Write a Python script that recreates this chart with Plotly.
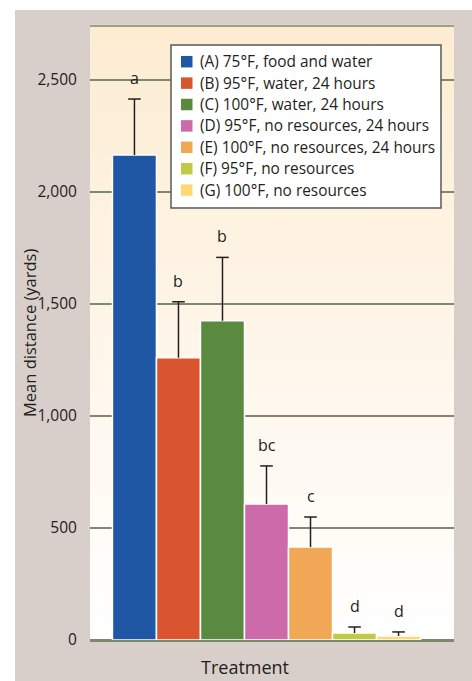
import plotly.graph_objects as go

# Treatment groups, mean travel distance and standard error (yards)
labels = [
    "(A) 75°F, food and water",
    "(B) 95°F, water, 24 hours",
    "(C) 100°F, water, 24 hours",
    "(D) 95°F, no resources, 24 hours",
    "(E) 100°F, no resources, 24 hours",
    "(F) 95°F, no resources",
    "(G) 100°F, no resources",
]
means = [2165, 1260, 1425, 607, 415, 31, 18]
errors = [250, 250, 283, 170, 134, 27, 18]
groups = ["a", "b", "b", "bc", "c", "d", "d"]
colors = ["#1f57a5", "#d9552f", "#5a8a3f", "#cd6aaa", "#f0a857", "#c0c948", "#fdd874"]
y_ticks = [0, 500, 1000, 1500, 2000, 2500]

FONT = "Open Sans"
INK = "#231f20"
GRID = "#7b8a6d"

# plotting-area geometry in pixels (used to place paper-referenced decorations)
W, H = 472, 681
L, R, T, B = 90, 18, 26, 41
PW, PH = W - L - R, H - T - B


def px(x):
    return (x - L) / PW


def py(y):
    return (H - B - y) / PH


fig = go.Figure()

# one bar trace per treatment
for i, (lab, m, c) in enumerate(zip(labels, means, colors)):
    fig.add_trace(go.Bar(
        x=[i], y=[m], name=lab, width=1.0,
        marker=dict(color=c, line=dict(color="white", width=1.5)),
        hoverinfo="skip", showlegend=False,
    ))

# upper error whiskers: stem from bar top to mean + SE, with a cap
stem_x, stem_y = [], []
for i, (m, e) in enumerate(zip(means, errors)):
    stem_x += [i, i, None]
    stem_y += [m, m + e, None]
fig.add_trace(go.Scatter(
    x=stem_x, y=stem_y, mode="lines",
    line=dict(color=INK, width=1.5), showlegend=False, hoverinfo="skip",
))
fig.add_trace(go.Scatter(
    x=list(range(len(means))), y=[m + e for m, e in zip(means, errors)],
    mode="markers",
    marker=dict(symbol="line-ew-open", size=9, color=INK,
                line=dict(color=INK, width=1.5)),
    showlegend=False, hoverinfo="skip",
))

# significance group letters above the whiskers
for i, (m, e, g) in enumerate(zip(means, errors, groups)):
    fig.add_annotation(
        x=i, y=m + e, text=g, showarrow=False, yanchor="middle", yshift=21,
        font=dict(family=FONT, size=16, color=INK),
    )

shapes = []
# tinted panel behind the whole chart
shapes.append(dict(
    type="rect", xref="paper", yref="paper", layer="below",
    x0=px(15), x1=px(W + 20), y0=py(H + 20), y1=py(10),
    fillcolor="#d9cfca", line=dict(width=0),
))
# cream-to-white vertical wash inside the plotting area
n_bands = 80
top_rgb = (253, 236, 210)
bot_rgb = (255, 255, 255)
for k in range(n_bands):
    t = (k + 0.5) / n_bands
    r, g, b = (round(bot_rgb[j] + (top_rgb[j] - bot_rgb[j]) * t) for j in range(3))
    shapes.append(dict(
        type="rect", xref="paper", yref="paper", layer="below",
        x0=0, x1=1, y0=k / n_bands, y1=(k + 1) / n_bands + 0.002,
        fillcolor=f"rgb({r},{g},{b})", line=dict(width=0),
    ))
# rule along the top of the plotting area
shapes.append(dict(
    type="line", xref="paper", yref="paper", x0=0, x1=1, y0=1, y1=1,
    line=dict(color=GRID, width=1.5),
))

# key box listing the treatments
key_left, key_right, key_top, key_bottom = 171, 441, 45, 208
row0, row_gap = 61.7, 21.4
shapes.append(dict(
    type="rect", xref="paper", yref="paper", layer="above",
    x0=px(key_left), x1=px(key_right), y0=py(key_bottom), y1=py(key_top),
    fillcolor="white", line=dict(color="#58595b", width=1.5),
))
for k, (lab, c) in enumerate(zip(labels, colors)):
    yc = row0 + k * row_gap
    shapes.append(dict(
        type="rect", xref="paper", yref="paper", layer="above",
        x0=px(181), x1=px(192.5), y0=py(yc + 5.75), y1=py(yc - 5.75),
        fillcolor=c, line=dict(width=0),
    ))
    fig.add_annotation(
        xref="paper", yref="paper", x=px(197.5), y=py(yc),
        text=lab, showarrow=False, xanchor="left", yanchor="middle",
        font=dict(family=FONT, size=15.4, color=INK),
    )

fig.add_annotation(
    xref="paper", yref="paper", x=px(29), y=0.5,
    text="Mean distance (yards)", textangle=-90, showarrow=False,
    xanchor="center", yanchor="middle",
    font=dict(family=FONT, size=16.5, color=INK),
)
fig.add_annotation(
    xref="paper", yref="paper", x=px(245), y=py(667),
    text="Treatment", showarrow=False, xanchor="center", yanchor="middle",
    font=dict(family=FONT, size=18, color=INK),
)

fig.update_layout(
    width=W, height=H,
    margin=dict(l=L, r=R, t=T, b=B),
    paper_bgcolor="white", plot_bgcolor="rgba(0,0,0,0)",
    shapes=shapes,
    barmode="overlay",
    showlegend=False,
    xaxis=dict(
        range=[-1.01, 7.26], showticklabels=False, showgrid=False,
        zeroline=False, ticks="", fixedrange=True,
    ),
    yaxis=dict(
        range=[0, 2741], tickvals=y_ticks, tickformat=",d",
        showgrid=True, gridcolor=GRID, gridwidth=1.5,
        zeroline=True, zerolinecolor=GRID, zerolinewidth=2.5,
        ticks="outside", ticklen=9, tickcolor="rgba(0,0,0,0)",
        tickfont=dict(family=FONT, size=15.5, color=INK),
        fixedrange=True,
    ),
)

fig.write_html("out.html")
